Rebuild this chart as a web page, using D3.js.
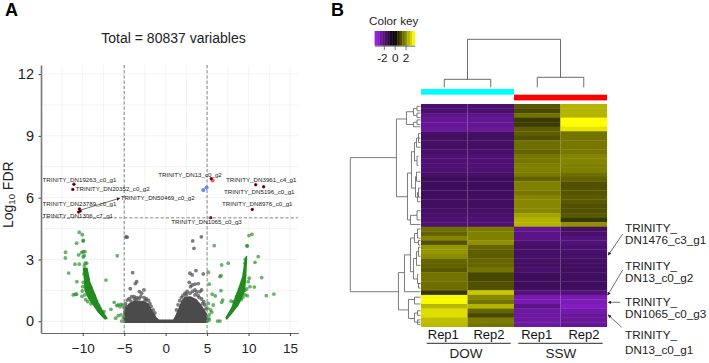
<!DOCTYPE html>
<html><head><meta charset="utf-8">
<script src="https://cdn.jsdelivr.net/npm/d3@7"></script>
<style>html,body{margin:0;padding:0;background:#fff}svg{display:block;font-family:"Liberation Sans",Arial,sans-serif}</style>
</head><body><svg id="c" width="709" height="363"></svg>
<script>
// ---------- Volcano data (log2FC, log10 FDR) ----------
const greyPoints=[[-4.8,4.1],[-4.65,4.08],[-3.98,2.36],[-3.5,1.92],[-3.66,1.83],[-4.27,1.58],[-3.18,1.44],[-2.62,1.52],[-2.9,1.36],[-4.63,1.03],[-4.1,1.19],[-3.43,1.15],[-2.3,1.08],[-4.85,.85],[-3.8,1.2],[-3,1.2],[-4.4,1.1],[-3.2,1.1],[-2.6,1.15],[-1.9,.85],[-1.5,.55],[-5,.65],[-2.05,1.0],[-3.55,1.02],[-4.2,.98],[-1.75,.72],[-1.3,.4],[-2.45,1.02],[-4.75,.72],[-3.75,1.08],
[3.26,3.9],[4.3,4.1],[3.41,3.54],[2.93,2.33],[3.2,2.25],[3.65,2.46],[4.54,2.3],[2.85,1.89],[3.2,1.76],[3.53,1.8],[3.93,1.83],[4.34,1.52],[3,1.68],[3.53,1.52],[4.14,1.44],[2.33,1.36],[2.93,1.36],[3.53,1.28],[4.34,1.08],[4.74,.79],[2.6,1.45],[3.9,1.25],[4.6,.95],[1.9,1.15],[1.5,.8],[2.1,1.25],[2.5,1.3],[3.25,1.45],[3.75,1.42],[4.05,1.15],[4.45,.85],[4.85,.6],[1.7,1.0],[1.3,.55]];
const greyMass=[[-5.1,-.09],[-5.1,.5],[-5.02,.55],[-4.5,.85],[-3.9,.98],[-3.3,1],[-2.7,1],[-2.1,.88],[-1.7,.6],[-1.1,.2],[-.8,.09],[.9,.09],[1.1,.22],[1.5,.6],[1.9,1],[2.3,1.2],[3,1.22],[3.7,1.08],[4.2,.85],[4.6,.62],[5.05,.33],[5.05,-.09]];
const greenMassLeft=[[-9.9,2.57],[-9.75,1.92],[-9.72,1.52],[-9.28,1.12],[-8.68,.79],[-8.08,.44],[-7.32,.12],[-7.1,.14],[-7.65,.5],[-8.18,.92],[-8.78,1.52],[-9.18,1.92],[-9.5,2.57]];
const greenMassRight=[[7.3,.18],[7.98,.63],[8.4,1.12],[8.92,1.68],[9.32,2.17],[9.58,2.89],[9.74,3.14],[9.65,2.25],[9.52,1.6],[9.4,1.36],[8.72,.79],[7.93,.39],[7.38,.12]];
const greenPoints=[[-9.94,3.9],[-9.94,3.92],[-10.42,4.32],[-10.06,4.2],[-10.74,3.79],[-12.07,3.35],[-12.1,3.07],[-10.5,3.22],[-9.94,3.38],[-10.14,3.33],[-9.74,3.38],[-9.82,3.18],[-9.94,3.12],[-9.7,2.82],[-9.53,2.82],[-10.94,2.77],[-10.42,2.77],[-9.8,2.7],[-9.6,2.4],[-9.85,2.3],[-11.7,2.34],[-7.2,2],[-10.7,1.92],[-5.84,3.18],[-9.94,1.89],[-10,1.68],[-9.6,1.68],[-10.06,1.47],[-10.1,1.21],[-10.74,1.31],[-11.15,1.28],[-10.9,1.31],[-9.74,1.28],[-6.2,.92],[-6.6,.58],[-7.44,.47],[-5.72,.79],[-5.39,.82],[-5.91,.76],[-5.19,.79],[-5.72,.27],[-6.03,.15],[-5.39,.31],[-5.31,.01],[-5.11,.17],[-5.5,.7],[-9.35,2.05],[-9.05,1.65],[-8.65,1.25],[-8.3,.85],[-9.65,1.05],[-9.4,.95],[-9.0,.85],
[10.41,4.22],[10.05,4.16],[9.8,3.67],[9.85,3.65],[5.86,3.67],[11.17,3.14],[10.77,2.86],[7.55,2.82],[6.76,2.73],[9.57,2.82],[9.6,3.0],[5.14,2.38],[6.67,2.21],[6.55,2.17],[11.58,2.12],[10.08,2.09],[9.96,1.92],[5.26,1.8],[10.69,1.66],[10.17,1.68],[9.77,1.57],[6.67,1.49],[13.06,1.32],[12.14,1.24],[5.62,1.31],[5.98,1.23],[9.84,1.24],[9.57,1.28],[6.88,1.03],[6.76,.92],[5.14,.87],[5.74,.79],[5.07,.63],[5.43,.55],[5.55,.44],[5.26,.31],[5.02,.01],[5.26,.06],[6.27,.01],[6.55,.01],[7.88,.98],[8.36,.79],[8.9,1.1],[9.3,1.15],[9.15,1.35],[5.2,.15],[9.3,1.85],[9.45,2.0],[9.55,1.5],[9.1,1.05],[8.2,.95],[8.55,1.2]];
const redPoints=[[-11.06,6.65],[-11.2,6.4],[-10.4,5.45],[-10.5,5.3],[-10.3,5.35],[10.86,6.63],[11.82,6.53],[10.45,5.43],[5.43,5.03],[5.5,6.92]];
const salmonPoints=[[5.67,6.83]];
const bluePoints=[[4.54,6.37],[4.94,6.49]];
const geneNames=["TRINITY_DN19263_c0_g1","TRINITY_DN20352_c0_g2","TRINITY_DN50469_c0_g2","TRINITY_DN23789_c0_g1","TRINITY_DN1306_c7_g1","TRINITY_DN13_c0_g2","TRINITY_DN3961_c4_g1","TRINITY_DN5196_c0_g1","TRINITY_DN8976_c0_g1","TRINITY_DN1065_c0_g3"];
const geneLabelX=[-14.85,-10.85,-5.43,-14.85,-14.85,-0.9,7.28,7.04,6.8,0.68];
const geneLabelY=[6.74,6.3,5.9,5.58,5.0,7.01,6.74,6.18,5.58,4.73];
const arrowLine=[[-10.5,5.37],[-5.55,5.97]];
const xTicks=[-10,-5,0,5,10,15];
const yTicks=[0,3,6,9,12];
const xGrid=[-12.5,-10,-7.5,-5,-2.5,0,2.5,5,7.5,10,12.5,15];
const yGrid=[0,1.5,3,4.5,6,7.5,9,10.5,12];
const xCuts=[-5,5];
const yCut=[5.02];

// ---------- Heatmap data ----------
const samples=["DOW Rep1","DOW Rep2","SSW Rep1","SSW Rep2"];
const repLabels=["Rep1","Rep2","Rep1","Rep2"];
const heat=[
[-1.45,-1.45,1.05,2.1],[-1.4,-1.4,.85,2.1],[-1.8,-1.8,1.35,2.1],[-1.95,-1.9,.7,3],[-1.95,-1.9,.7,3],[-2.05,-2,1.1,2.7],
[-1.3,-1.3,1.1,1.35],[-1.25,-1.25,.95,1.35],[-1.3,-1.3,1.3,1.4],[-1.3,-1.3,1.3,1.4],[-1.35,-1.35,1.15,1.4],[-1.5,-1.5,1.4,1.55],[-1.5,-1.5,1.4,1.55],
[-1.5,-1.5,1.5,1.5],[-1.5,-1.5,1.5,1.5],[-1.35,-1.35,1.45,1.3],[-1.2,-1.2,1.15,1.15],[-1.2,-1.2,1.5,.95],[-1.2,-1.2,1.5,.95],[-1.25,-1.25,1.4,1],[-1.25,-1.25,1.55,1.05],[-1.25,-1.25,1.6,1.05],[-1.25,-1.25,1.6,.95],[-1.3,-1.3,1.6,.95],[-1.4,-1.4,1.9,1.05],[-1.5,-1.5,2.1,.65],[-1.5,-1.5,2.1,1.7],
[1.3,1.45,-1.9,-1.3],[1.15,1.5,-1.75,-1.4],[1.55,1.5,-1.75,-1.6],[.95,1.7,-1.45,-1.55],[1.75,1.2,-1.35,-1.45],[1.75,1.1,-1.35,-1.4],[1.65,1.1,-1.35,-1.4],[1.2,1.2,-1.3,-1.3],[1.15,1.2,-1.3,-1.25],[1.05,1.35,-1.4,-1.25],[1.35,.85,-1.2,-1.25],[1.35,.85,-1.2,-1.25],[1.3,.95,-1.2,-1.2],[1.3,.95,-1.25,-1.25],[.65,2.35,-1.6,-1.6],
[2.95,1.6,-2.3,-2.3],[2.95,1.35,-2.3,-2.35],[2.15,2.1,-1.75,-2.5],[2.6,1.2,-2.1,-2.2],[2.6,.85,-2.1,-2],[2.25,1.45,-2.1,-2],[2.2,1.35,-2.1,-1.95]];
const keyBins=[-2.9,-2.5,-2.1,-1.7,-1.3,-.9,-.5,-.15,.15,.5,.9,1.3,1.7,2.1,2.5,2.9];
const keyTicks=[-2,0,2];
// row dendrogram brackets: [distance, rowA, rowB, distA, distB]
const rowTree=[[70,11.3,40.8,24,22],[24,2.8,19.9,14,13],[14,1.2,4,7,7],[7,.5,2,3.5,3.5],[3.5,0,1,0,0],[3.5,1.5,2.5,0,0],[7,3.5,4.5,3.5,0],[3.5,3,4,0,0],
[13,14.7,25,9,10],[9,10,18,6,5],[6,8,12,4,3.5],[4,7,9,0,0],[3.5,11,13,2,2],[2,6,8,0,0],[5,15.5,20,4,3],[4,14.5,16.5,0,0],[3,19,21,2,0],[2,18,20,0,0],[10,24,26,3.5,0],[3.5,23,25,0,0],
[22,36.6,44.8,16,12],[16,32.7,40.8,10,0],[10,29,36.4,6,7],[6,28,30,3,2],[3,27,29,0,0],[2,29.5,30.5,0,0],[7,33.5,38,4,3],[4,32,35,2,0],[2,31,33,0,0],[3,37,39,2,0],[2,39,40,0,0],
[12,42.5,46.7,6,6],[6,42,43.5,0,0],[6,45.5,47.5,3,0],[3,45,46,0,0],[3,47,48,0,0]];
// column dendrogram: [height, colA, colB, heightA, heightB]
const colTree=[[48,.5,2.5,8,10],[8,0,1,0,0],[10,2,3,0,0]];
const geneCallouts=[["TRINITY_","DN1476_c3_g1"],["TRINITY_","DN13_c0_g2"],["TRINITY_","DN1065_c0_g3"],["TRINITY_","DN13_c0_g1"]];

const svg=d3.select("#c");
// ---------- Panel A ----------
const x=d3.scaleLinear().domain([-15,16]).range([41.3,298.3]);
const y=d3.scaleLinear().domain([-.57,12.44]).range([333,65]);
const A=svg.append("g");
A.append("g").selectAll("line").data(xGrid).join("line").attr("x1",d=>x(d)).attr("x2",d=>x(d)).attr("y1",65).attr("y2",333).attr("stroke","#f0f0f0").attr("stroke-width",.8);
A.append("g").selectAll("line").data(yGrid).join("line").attr("y1",d=>y(d)).attr("y2",d=>y(d)).attr("x1",41).attr("x2",298).attr("stroke","#f0f0f0").attr("stroke-width",.8);
const poly=d3.line().x(d=>x(d[0])).y(d=>y(d[1]));
const dots=(data,fill,r,op)=>A.append("g").selectAll("circle").data(data).join("circle").attr("cx",d=>x(d[0])).attr("cy",d=>y(d[1])).attr("r",r).attr("fill",fill).attr("fill-opacity",op);
A.append("path").attr("d",poly(greyMass)+"Z").attr("fill","#4b4b4b");
dots(greyPoints,"#4b4b4b",1.9,.72);
A.append("path").attr("d",poly(greenMassLeft)+"Z").attr("fill","#228b22").attr("stroke","#228b22").attr("stroke-width",1.6).attr("stroke-linejoin","round");
A.append("path").attr("d",poly(greenMassRight)+"Z").attr("fill","#228b22").attr("stroke","#228b22").attr("stroke-width",1.6).attr("stroke-linejoin","round");
dots(greenPoints,"#228b22",1.9,.66);
dots(bluePoints,"#4f7be8",2.1,.85);
dots(salmonPoints,"#f0504f",2,.9);
dots(redPoints,"#b01020",1.7,1);
dots(redPoints,"#1a0505",.9,1);
const dash=A.append("g").attr("stroke","#858585").attr("stroke-width",1).attr("stroke-dasharray","3.2 2");
dash.selectAll(".v").data(xCuts).join("line").attr("class","v").attr("x1",d=>x(d)).attr("x2",d=>x(d)).attr("y1",65).attr("y2",333);
dash.selectAll(".h").data(yCut).join("line").attr("class","h").attr("y1",d=>y(d)).attr("y2",d=>y(d)).attr("x1",41).attr("x2",298);
svg.append("defs").append("marker").attr("id","ah").attr("viewBox","0 0 6 6").attr("refX",5).attr("refY",3).attr("markerWidth",5).attr("markerHeight",5).attr("orient","auto").append("path").attr("d","M0 0L6 3L0 6Z").attr("fill","#222");
A.append("path").attr("d",poly(arrowLine)).attr("stroke","#333").attr("stroke-width",.7).attr("fill","none").attr("marker-end","url(#ah)");
A.append("g").selectAll("text").data(geneNames).join("text").attr("x",(d,i)=>x(geneLabelX[i])).attr("y",(d,i)=>y(geneLabelY[i])).attr("font-size",6.2).attr("fill","#222").text(d=>d);
const ax=A.append("g").attr("transform","translate(0,333)").call(d3.axisBottom(x).tickValues(xTicks).tickSize(3).tickSizeOuter(0));
ax.select(".domain").attr("stroke","#666").attr("stroke-width",1);
ax.selectAll("line").attr("stroke","#444");
ax.selectAll("text").attr("font-family","inherit").attr("font-size",13.5).attr("fill","#222").attr("dy",0).attr("y",19.5);
const ay=A.append("g").attr("transform","translate(41,0)").call(d3.axisLeft(y).tickValues(yTicks).tickSize(2.5).tickSizeOuter(0));
ay.select(".domain").attr("stroke","#777").attr("stroke-width",1.6);
ay.selectAll("line").attr("stroke","#444");
ay.selectAll("text").attr("font-family","inherit").attr("font-size",14.5).attr("fill","#222").attr("x",-7);
const yl=A.append("text").attr("transform","translate(12.7,228) rotate(-90)").attr("font-size",14).attr("fill","#222");
yl.append("tspan").text("Log");
yl.append("tspan").attr("font-size",9.5).attr("dy",2.5).text("10");
yl.append("tspan").attr("dy",-2.5).text(" FDR");
svg.append("text").attr("x",173.5).attr("y",42.7).attr("text-anchor","middle").attr("font-size",14).attr("fill","#222").text("Total = 80837 variables");
svg.append("text").attr("x",5).attr("y",16).attr("font-size",18).attr("font-weight","bold").text("A");
svg.append("text").attr("x",331).attr("y",16).attr("font-size",18).attr("font-weight","bold").text("B");

// ---------- Panel B ----------
const B=svg.append("g");
const colX=d3.scaleBand().domain(d3.range(samples.length)).range([421,607]);
const colC=v=>colX(0)+(v+.5)*colX.bandwidth();
const rowY=d3.scaleLinear().domain([-.5,48.5]).range([104,326.7]);
const color=d3.scaleLinear().domain([-3,0,3]).range(["#9c22e6","#000000","#ffff00"]);
heat.forEach((row,r)=>{
  B.append("g").selectAll("rect").data(row).join("rect").attr("x",(d,i)=>colX(i)).attr("y",rowY(r-.5)).attr("width",colX.bandwidth()+.1).attr("height",rowY(r+.5)-rowY(r-.5)+.3).attr("fill",d=>color(d));
});
B.append("g").selectAll("line").data([1,3]).join("line").attr("x1",d=>colX(d)).attr("x2",d=>colX(d)).attr("y1",104).attr("y2",326.7).attr("stroke","#fff").attr("stroke-opacity",.08).attr("stroke-width",.7);
// column side bars
B.append("rect").attr("x",colX(0)).attr("width",2*colX.bandwidth()).attr("y",89).attr("height",5.7).attr("fill","#00ffff");
B.append("rect").attr("x",colX(2)).attr("width",2*colX.bandwidth()).attr("y",94.7).attr("height",5.7).attr("fill","#ff0000");
// row dendrogram
const dX=d3.scaleLinear().domain([0,70]).range([420.5,350.3]);
B.append("g").selectAll("path").data(rowTree).join("path").attr("d",d=>`M${dX(d[3])},${rowY(d[1])}H${dX(d[0])}V${rowY(d[2])}H${dX(d[4])}`).attr("fill","none").attr("stroke","#5a5a5a").attr("stroke-width",.8);
// column dendrogram
const dY=d3.scaleLinear().domain([0,48]).range([87.3,39.3]);
B.append("g").selectAll("path").data(colTree).join("path").attr("d",d=>`M${colC(d[1])},${dY(d[3])}V${dY(d[0])}H${colC(d[2])}V${dY(d[4])}`).attr("fill","none").attr("stroke","#5a5a5a").attr("stroke-width",.9);
// colour key
const keyX=d3.scaleLinear().domain([-3.7,3.7]).range([374.6,414.8]);
const keyBand=d3.scaleBand().domain(keyBins).range([374.6,414.8]);
B.append("g").selectAll("rect").data(keyBins).join("rect").attr("x",d=>keyBand(d)).attr("y",31).attr("width",keyBand.bandwidth()+.2).attr("height",14.7).attr("fill",d=>color(d));
const kax=B.append("g").attr("transform","translate(0,45.7)").call(d3.axisBottom(keyX).tickValues(keyTicks).tickSize(4.5).tickSizeOuter(0).tickFormat(d=>d));
kax.select(".domain").attr("stroke","#444").attr("stroke-width",.7);
kax.selectAll("line").attr("stroke","#444").attr("stroke-width",.7);
kax.selectAll("text").attr("font-family","inherit").attr("font-size",11.7).attr("fill","#222").attr("dy",0).attr("y",16.5).attr("x",d=>d<0?-2:0);
svg.append("text").attr("x",369).attr("y",25).attr("font-size",11.7).attr("fill","#222").text("Color key");
// rep / group labels
B.append("g").selectAll("text").data(repLabels).join("text").attr("x",(d,i)=>[443.3,489,536.7,584][i]).attr("y",339.3).attr("text-anchor","middle").attr("font-size",13).attr("fill","#111").text(d=>d);
[[426.7,510.7,466,"DOW"],[518.3,602.7,561,"SSW"]].forEach(g=>{
  B.append("line").attr("x1",g[0]).attr("x2",g[1]).attr("y1",343.3).attr("y2",343.3).attr("stroke","#111").attr("stroke-width",.9);
  B.append("text").attr("x",g[2]).attr("y",358.3).attr("text-anchor","middle").attr("font-size",13.5).attr("fill","#222").text(g[3]);
});
// call-outs
const calloutBase=[[232,244.3],[269.7,282],[305.7,317.7],[339,354]];
const calloutLine=[[622.7,234,608.3,255],[622.7,270,607.7,295],[620,302.3,608.3,302.3],[621.7,327.3,608.3,315]];
geneCallouts.forEach((g,i)=>{
  g.forEach((t,k)=>svg.append("text").attr("x",625).attr("y",calloutBase[i][k]).attr("font-size",11.7).attr("fill","#222").text(t));
  const l=calloutLine[i];
  B.append("line").attr("x1",l[0]).attr("y1",l[1]).attr("x2",l[2]).attr("y2",l[3]).attr("stroke","#333").attr("stroke-width",.7).attr("marker-end","url(#ah)");
});
</script></body></html>
